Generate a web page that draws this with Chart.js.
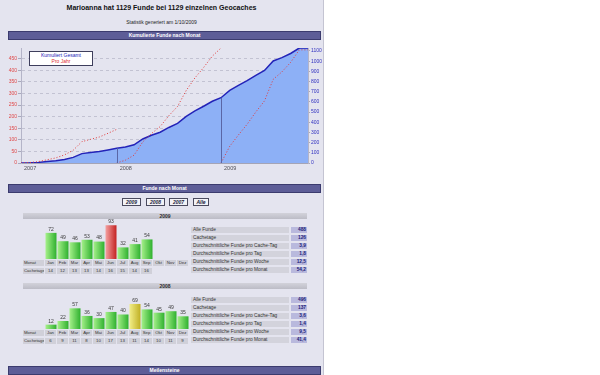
<!DOCTYPE html>
<html>
<head>
<meta charset="utf-8">
<script src="https://cdn.jsdelivr.net/npm/chart.js@4.4.1/dist/chart.umd.min.js"></script>
<style>
body { margin: 0; background: #fff; font-family: "Liberation Sans", Arial, sans-serif; }
#page { position: absolute; left: 0; top: 0; width: 323px; height: 375px; background: #e4e4ef; border-right: 1px solid #c4c4d2; overflow: hidden; }
.abs { position: absolute; }
.title { left: 0; width: 323px; top: 3px; text-align: center; font-weight: bold; font-size: 7px; line-height: 9px; color: #111; }
.sub { left: 0; width: 323px; top: 19px; text-align: center; font-size: 5px; line-height: 6px; color: #222; }
.hdr { left: 8px; width: 311px; height: 7px; background: #5d5d97; border: 1px solid #3b3b6e; color: #fff; font-weight: bold; font-size: 5px; line-height: 7px; text-align: center; }
.btn { top: 198px; height: 6px; background: #f2f2f6; border: 1px solid #4a4a5e; font-weight: bold; font-style: italic; font-size: 5px; line-height: 6px; text-align: center; color: #202038; }
.jahr { left: 23px; width: 284px; height: 6px; background: linear-gradient(#d2d2da, #bcbcc6); font-weight: bold; font-size: 5px; line-height: 6px; text-align: center; color: #2a2a2a; }
.zelle { height: 6px; background: #d0d0d9; font-size: 4.3px; line-height: 6px; color: #333; text-align: center; overflow: hidden; white-space: nowrap; }
.lab { height: 6px; background: #d3d3dc; font-size: 4.8px; line-height: 6px; color: #333; padding-left: 2px; white-space: nowrap; overflow: hidden; }
.wert { height: 6px; background: #b9b9dd; font-size: 4.8px; line-height: 6px; color: #22227a; font-weight: bold; text-align: right; padding-right: 1px; }
.legende { left: 29px; top: 51px; width: 62px; height: 13px; background: #fff; border: 1px solid #3e3e5c; font-size: 5px; line-height: 6px; text-align: center; }
</style>
</head>
<body>
<div id="page">
  <div class="abs title">Marioanna hat 1129 Funde bei 1129 einzelnen Geocaches</div>
  <div class="abs sub">Statistik generiert am 1/10/2009</div>

  <div class="abs hdr" style="top:31px">Kumulierte Funde nach Monat</div>
  <div class="abs" style="left:0;top:42px;width:322px;height:132px"><canvas id="kumuliert"></canvas></div>
  <div class="abs legende"><span style="color:#2323b8">Kumuliert Gesamt</span><br><span style="color:#e03030">Pro Jahr</span></div>

  <div class="abs hdr" style="top:184px">Funde nach Monat</div>
  <div class="abs btn" style="left:122px;width:17px">2009</div>
  <div class="abs btn" style="left:146px;width:17px">2008</div>
  <div class="abs btn" style="left:169px;width:17px">2007</div>
  <div class="abs btn" style="left:193px;width:14px">Alle</div>

  <div id="block2009"></div>
  <div id="block2008"></div>

  <div class="abs hdr" style="top:366px">Meilensteine</div>
</div>

<script>
// Monatsanfang je Punkt der kumulierten Kurve
const monate = ['2007-02','2007-03','2007-04','2007-05','2007-06','2007-07','2007-08','2007-09','2007-10','2007-11','2007-12',
                '2008-01','2008-02','2008-03','2008-04','2008-05','2008-06','2008-07','2008-08','2008-09','2008-10','2008-11','2008-12',
                '2009-01','2009-02','2009-03','2009-04','2009-05','2009-06','2009-07','2009-08','2009-09','2009-10','2009-11'];

// Funde pro Monat
const funde2007 = [2, 4, 8, 8, 13, 20, 37, 10, 10, 16, 17];          // Feb - Dez
const funde2008 = [12, 22, 57, 36, 30, 47, 40, 69, 54, 45, 49, 35];
const funde2009 = [72, 49, 46, 53, 48, 93, 32, 41, 54];

const cachetage2008 = [6, 9, 11, 8, 10, 17, 13, 11, 14, 10, 11, 9];
const cachetage2009 = [14, 12, 13, 13, 14, 16, 15, 14, 16];

const monatNamen = ['Jan','Feb','Mar','Apr','Mai','Jun','Jul','Aug','Sep','Okt','Nov','Dez'];

const statLabels = ['Alle Funde', 'Cachetage', 'Durchschnittliche Funde pro Cache-Tag',
                    'Durchschnittliche Funde pro Tag', 'Durchschnittliche Funde pro Woche',
                    'Durchschnittliche Funde pro Monat'];
const stats2009 = ['488', '126', '3,9', '1,8', '12,5', '54,2'];
const stats2008 = ['496', '137', '3,6', '1,4', '9,5', '41,4'];

const stepLinks = 50;
const stepRechts = 100;

Chart.defaults.font.family = '"Liberation Sans", Arial, sans-serif';
Chart.defaults.animation = false;

// --- kumulierte Werte aufbauen ---
const alleFunde = funde2007.concat(funde2008, funde2009);
const gesamt = [0];
alleFunde.forEach(v => gesamt.push(gesamt[gesamt.length - 1] + v));
while (gesamt.length < monate.length) gesamt.push(gesamt[gesamt.length - 1]);

function jahresKurve(start, funde, bisEnde) {
    const arr = monate.map(() => null);
    let s = 0;
    arr[start] = 0;
    funde.forEach((v, k) => { s += v; arr[start + k + 1] = s; });
    if (bisEnde) for (let i = start + funde.length + 1; i < monate.length; i++) arr[i] = s;
    return arr;
}
const kurve2007 = jahresKurve(0, funde2007, false);
const kurve2008 = jahresKurve(monate.indexOf('2008-01'), funde2008, false);
const kurve2009 = jahresKurve(monate.indexOf('2009-01'), funde2009, true);

const maxJahr = Math.max(...[funde2007, funde2008, funde2009].map(a => a.reduce((x, y) => x + y, 0)));
const maxGesamt = gesamt[gesamt.length - 1];

// senkrechte Linien an den Jahresanfaengen
const jahresLinien = {
    id: 'jahresLinien',
    afterDatasetsDraw(chart) {
        const ctx = chart.ctx, xs = chart.scales.x, yr = chart.scales.yR;
        ctx.save();
        ctx.strokeStyle = '#5a66a6';
        ctx.lineWidth = 1;
        monate.forEach((m, i) => {
            if (!m.endsWith('-01')) return;
            const x = Math.round(xs.getPixelForValue(i)) + 0.5;
            ctx.beginPath();
            ctx.moveTo(x, yr.getPixelForValue(0));
            ctx.lineTo(x, yr.getPixelForValue(gesamt[i]));
            ctx.stroke();
        });
        ctx.restore();
    }
};

const rot = '#e03a3a';
const rotDs = (data) => ({
    data, yAxisID: 'yL', borderColor: rot, borderWidth: 1, borderDash: [1, 2],
    pointRadius: 0, fill: false, spanGaps: false, order: 0
});

new Chart(document.getElementById('kumuliert'), {
    type: 'line',
    data: {
        labels: monate,
        datasets: [
            { data: gesamt, yAxisID: 'yR', borderColor: '#2323b8', borderWidth: 1.5,
              backgroundColor: '#8db0f6', fill: 'origin', pointRadius: 0, order: 1 },
            rotDs(kurve2007), rotDs(kurve2008), rotDs(kurve2009)
        ]
    },
    options: {
        responsive: true,
        maintainAspectRatio: false,
        layout: { padding: { top: 6, left: 0, right: 0, bottom: 0 } },
        plugins: { legend: { display: false }, tooltip: { enabled: false } },
        elements: { line: { tension: 0 } },
        scales: {
            x: {
                offset: false,
                afterFit: s => { s.height = 11; },
                grid: { display: false, drawTicks: false },
                border: { display: true, color: '#a4a4b6' },
                ticks: {
                    autoSkip: false, maxRotation: 0, align: 'start', labelOffset: 3, padding: 2,
                    color: '#505058', font: { size: 5.5 },
                    callback: (v, i) => (i === 0 || monate[i].endsWith('-01')) ? monate[i].slice(0, 4) : ''
                }
            },
            yL: {
                position: 'left', min: 0, max: maxJahr,
                afterFit: s => { s.width = 21; },
                border: { display: true, color: '#b4b4c8', dash: [3, 3] },
                grid: { color: '#c2c2d2', tickLength: 3, tickColor: '#a8a8bc', tickBorderDash: [] },
                ticks: { stepSize: stepLinks, includeBounds: false, color: '#e04848', font: { size: 5 }, padding: 1,
                         callback: v => String(v) }
            },
            yR: {
                position: 'right', min: 0, max: maxGesamt,
                afterFit: s => { s.width = 14; },
                border: { display: true, color: '#b4b4c8' },
                grid: { drawOnChartArea: false, tickLength: 2, tickColor: '#a8a8bc' },
                ticks: { stepSize: stepRechts, includeBounds: false, color: '#3030c0', font: { size: 5 }, padding: 1,
                         callback: v => String(v) }
            }
        }
    },
    plugins: [jahresLinien]
});

// --- Monatsbalken ---
const spalte = 12, balkenMax = 124;
const besterMonat = Math.max(...alleFunde);

const balkenFarbe = (werte) => (ctx) => {
    const chart = ctx.chart, xs = chart.scales.x;
    const v = werte[ctx.dataIndex];
    let hell = '#a6f08a', dunkel = '#2fb12f';
    if (v === besterMonat) { hell = '#f4a0a0'; dunkel = '#c42222'; }
    else if (v === Math.max(...werte)) { hell = '#f2ee88'; dunkel = '#c0b024'; }
    if (!xs || !xs.width) return dunkel;
    const x = xs.getPixelForValue(ctx.dataIndex);
    const g = chart.ctx.createLinearGradient(x - 5.5, 0, x + 5.5, 0);
    g.addColorStop(0, hell);
    g.addColorStop(1, dunkel);
    return g;
};

const werteOben = {
    id: 'werteOben',
    afterDatasetsDraw(chart) {
        const ctx = chart.ctx;
        ctx.save();
        ctx.font = '5px "Liberation Sans", Arial, sans-serif';
        ctx.fillStyle = '#3a3a3a';
        ctx.textAlign = 'center';
        ctx.textBaseline = 'bottom';
        chart.getDatasetMeta(0).data.forEach((el, i) => {
            const v = chart.data.datasets[0].data[i];
            if (v == null) return;
            ctx.fillText(String(v), el.x, el.y - 1);
        });
        ctx.restore();
    }
};

function jahresBlock(hostId, jahr, werte, tage, stats, dy) {
    const host = document.getElementById(hostId);
    let html = '';
    html += `<div class="abs jahr" style="top:${213 + dy}px">${jahr}</div>`;
    html += `<div class="abs" style="left:45px;top:${214 + dy}px;width:144px;height:45px"><canvas id="balken${jahr}"></canvas></div>`;
    html += `<div class="abs zelle" style="left:23px;width:20px;top:${260 + dy}px;text-align:left;padding-left:1px">Monat</div>`;
    html += `<div class="abs zelle" style="left:23px;width:20px;top:${268 + dy}px;text-align:left;padding-left:1px">Cachetage</div>`;
    monatNamen.forEach((m, i) => {
        html += `<div class="abs zelle" style="left:${45 + i * spalte}px;width:11px;top:${260 + dy}px">${m}</div>`;
        if (i < tage.length)
            html += `<div class="abs zelle" style="left:${45 + i * spalte}px;width:11px;top:${268 + dy}px">${tage[i]}</div>`;
    });
    statLabels.forEach((l, k) => {
        const t = 227 + dy + k * 8;
        html += `<div class="abs lab" style="left:191px;width:96px;top:${t}px">${l}</div>`;
        html += `<div class="abs wert" style="left:291px;width:15px;top:${t}px">${stats[k]}</div>`;
    });
    host.innerHTML = html;

    const daten = monatNamen.map((m, i) => i < werte.length ? werte[i] : null);
    new Chart(document.getElementById('balken' + jahr), {
        type: 'bar',
        data: {
            labels: monatNamen,
            datasets: [{
                data: daten,
                backgroundColor: balkenFarbe(werte),
                borderWidth: 0,
                categoryPercentage: 1,
                barPercentage: 11 / 12
            }]
        },
        options: {
            responsive: true,
            maintainAspectRatio: false,
            layout: { padding: 0 },
            plugins: { legend: { display: false }, tooltip: { enabled: false } },
            scales: {
                x: { display: false },
                y: { display: false, min: 0, max: balkenMax }
            }
        },
        plugins: [werteOben]
    });
}

jahresBlock('block2009', 2009, funde2009, cachetage2009, stats2009, 0);
jahresBlock('block2008', 2008, funde2008, cachetage2008, stats2008, 70);
</script>
</body>
</html>
